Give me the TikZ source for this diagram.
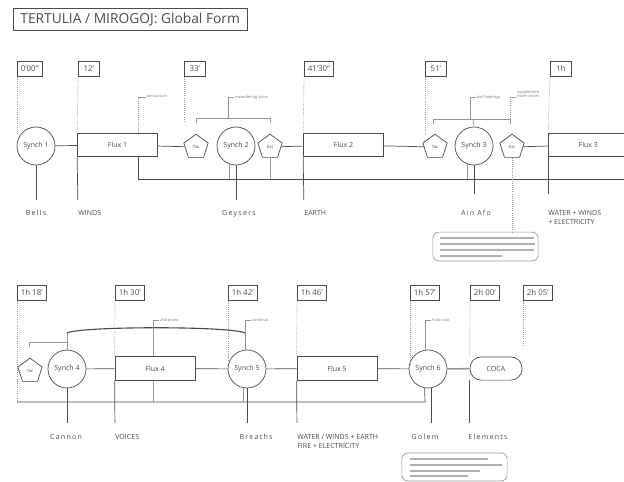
\documentclass[tikz,border=0pt]{standalone}
\usepackage{fontspec}
\setmainfont{Open Sans}
\usepackage{tikz}
\usetikzlibrary{shapes.geometric}
\definecolor{ink}{RGB}{75,75,75}
\definecolor{guide}{RGB}{150,150,150}

\begin{document}
\begin{tikzpicture}[x=0.025cm, y=-0.025cm, line width=0.5pt, color=ink,
  guideline/.style={draw=guide, densely dotted},
  softline/.style={draw=guide},
  timebox/.style={draw, anchor=north west, inner xsep=2.5pt, inner ysep=0pt,
    minimum width=0.52cm, minimum height=0.37cm, font=\fontsize{5.6}{7}\selectfont},
  synch/.style={draw, circle, minimum size=0.95cm, inner sep=0pt,
    font=\fontsize{5}{6}\selectfont},
  flux/.style={draw, rectangle, minimum width=2cm, minimum height=0.59cm,
    inner sep=0pt, font=\fontsize{5}{6}\selectfont},
  pent/.style={draw, regular polygon, regular polygon sides=5,
    minimum size=0.64cm, inner sep=0pt, font=\fontsize{3}{3}\selectfont},
  caps/.style={anchor=north west, inner sep=0pt, align=left,
    font=\fontsize{5}{6.5}\selectfont},
  spaced/.style={anchor=north, inner sep=0pt,
    font=\fontsize{5}{6}\selectfont\addfontfeatures{LetterSpace=18}},
  remark/.style={anchor=west, inner sep=0.5pt, text=guide!80!black,
    font=\fontsize{2.8}{3.2}\selectfont},
  bubble/.style={draw=guide, rounded corners=0.15cm, inner sep=0pt},
  scribble/.style={draw=guide!75, line width=0.9pt}
]

\useasboundingbox (0,0) rectangle (624,481);
\clip (0,0) rectangle (624,481);

%---------------------------------------
% Title
%---------------------------------------
\node[draw, anchor=west, inner xsep=5pt, minimum height=0.48cm,
      font=\fontsize{9.8}{11}\selectfont] (title) at (13,19.5)
      {TERTULIA / MIROGOJ: Global Form};

%====================================================
% ROW 1
%====================================================
\node[timebox] (t1) at (17,61)  {0'00"};
\node[timebox] (t2) at (78,61)  {12'};
\node[timebox] (t3) at (184,61) {33'};
\node[timebox] (t4) at (304,61) {41'30"};
\node[timebox] (t5) at (425,61) {51'};
\node[timebox] (t6) at (550,61) {1h};

% Main chain
\node[synch] (s1) at (36,146)  {Synch 1};
\node[flux]  (f1) at (117.5,145) {Flux 1};
\node[pent]  (p1) at (196,147) {Tac};
\node[synch] (s2) at (236,146) {Synch 2};
\node[pent]  (p2) at (270,147) {Ext};
\node[flux]  (f2) at (343.5,145) {Flux 2};
\node[pent]  (p3) at (435,147) {Tac};
\node[synch] (s3) at (474,146) {Synch 3};
\node[pent]  (p4) at (512,147) {Ext};
\node[flux, anchor=west] (f3) at (548,145) {Flux 3};

\draw (s1) -- (f1);
\draw (f1) -- (p1);
\draw (p2) -- (f2);
\draw (f2) -- (p3);
\draw (p4) -- (f3);

% Guides from the time marks
\draw[guideline] (t1.south west) -- ++(0,58);
\draw[guideline] (t2.south west) -- (f1.north west);
\draw[guideline] (t3.south west) -- ++(0,46);
\draw[guideline] (t4.south west) -- (f2.north west);
\draw[guideline] (t5.south west) -- ++(0,59);
\draw[guideline] (t6.south west) -- (f3.north west);

% Remarks above
\coordinate (kA) at (138,97);
\node[remark] (rA) at (146,97) {percussion};
\draw[guideline] (kA |- f1.north) -- (kA);
\draw[softline] (kA) -- (rA.west);

\coordinate (kB) at (228,97);
\node[remark] (rB) at (234,97) {meandering voice};
\draw[softline] (kB) -- (rB.west);
\draw[softline] (kB) -- (228,118);
\draw[softline] (196,123) -- (196,118) -- (270,118) -- (270,123);

\coordinate (kC) at (470,97);
\node[remark] (rC) at (476,97) {ball bearings};
\draw[softline] (kC) -- (rC.west);
\draw[softline] (kC) -- (470,119);
\draw[softline] (433,124) -- (433,119) -- (510,119) -- (510,124);
\draw[softline] (473,119) -- (s3.north);

\coordinate (kD) at (510,97);
\node[remark, align=left] (rD) at (516,94) {supplement\\more voices};
\draw[softline] (kD) -- (rD.west |- kD);
\draw[guideline] (kD) -- (510,119);

% Bus line below
\coordinate (busA) at (138,179);
\coordinate (busB) at (626,179);
\draw (busA) -- (busB);
\draw (busA |- f1.south) -- (busA);
\draw[softline] (s2.250) -- (s2.250 |- busA);
\draw[softline] (p2.south) -- (p2.south |- busA);
\draw[softline] (s3.250) -- (s3.250 |- busA);

% Labels below
\node[spaced] (bells)   at (36,210)  {Bells};
\node[caps]   (winds)   at (78,210)  {WINDS};
\node[spaced] (geysers) at (239,210) {Geysers};
\node[caps]   (earth)   at (304,210) {EARTH};
\node[spaced] (ainafo)  at (476,210) {Ain Afo};
\node[caps]   (water)   at (548,210) {WATER + WINDS\\+ ELECTRICITY};

\draw[shorten >=0.25cm] (s1.south) -- (bells.north);
\draw[shorten >=0.25cm] (f1.south west) -- (winds.north west);
\draw[shorten >=0.25cm] (s2.south) -- (s2.south |- geysers.north);
\draw[shorten >=0.25cm] (f2.south west) -- (earth.north west);
\draw[shorten >=0.4cm]  (s3.south) -- (s3.south |- ainafo.north);
\draw[shorten >=0.4cm]  (f3.south west) -- (water.north west);

% Note bubble
\node[bubble, minimum width=2.63cm, minimum height=0.72cm] (noteA) at (485.5,246.5) {};
\draw[guideline] (p4.south) -- (noteA.north -| p4.south);
\foreach \yy/\len in {238/94, 244/95, 250/94, 256/62}
  \draw[scribble] (440,\yy) -- ++(\len,0);

%====================================================
% ROW 2
%====================================================
\node[timebox] (t7)  at (17,285)  {1h 18'};
\node[timebox] (t8)  at (115,285) {1h 30'};
\node[timebox] (t9)  at (228,285) {1h 42'};
\node[timebox] (t10) at (297,285) {1h 46'};
\node[timebox] (t11) at (410,285) {1h 57'};
\node[timebox] (t12) at (470,285) {2h 00'};
\node[timebox] (t13) at (523,285) {2h 05'};

% Main chain
\node[pent]  (p5) at (30,371)  {Tac};
\node[synch] (s4) at (67,369)  {Synch 4};
\node[flux]  (f4) at (155,368.5) {Flux 4};
\node[synch] (s5) at (247,369) {Synch 5};
\node[flux]  (f5) at (337,368.5) {Flux 5};
\node[synch] (s6) at (428,369) {Synch 6};
\node[draw, rounded corners=0.28cm, minimum width=1.3cm, minimum height=0.58cm,
      inner sep=0pt, font=\fontsize{5}{6}\selectfont] (coca) at (496,368.5) {COCA};

\draw (s4) -- (f4);
\draw (f4) -- (s5);
\draw (s5) -- (f5);
\draw (f5) -- (s6);
\draw[line width=1.1pt, draw=guide] (s6) -- (coca);

% Guides from the time marks
\draw[guideline] (t7.south west)  -- ++(0,103);
\draw[guideline] (t8.south west)  -- (f4.north west);
\draw[guideline] (t9.south west)  -- ++(0,60);
\draw[guideline] (t10.south west) -- (f5.north west);
\draw[guideline] (t11.south west) -- ++(0,64);
\draw[guideline] (t12.south west) -- (coca.north west);
\draw[guideline] (t13.south west) -- ++(0,45);

% Remarks above
\draw[line width=0.8pt] (67,333) .. controls (80,326) and (232,326) .. (245,333);
\draw[softline] (67,333) -- (s4.north);
\draw[softline] (29,347) -- (29,342) -- (67,342);

\coordinate (kE) at (153,320);
\node[remark] (rE) at (159,320) {2nd piano};
\draw[softline] (kE) -- (rE.west);
\draw[softline] (kE) -- (kE |- f4.north);

\coordinate (kF) at (245,320);
\node[remark] (rF) at (251,320) {continuo};
\draw[softline] (kF) -- (rF.west);
\draw[softline] (kF) -- (s5.north -| kF);

\coordinate (kG) at (425,320);
\node[remark] (rG) at (431,320) {frula solo};
\draw[softline] (kG) -- (rG.west);
\draw[softline] (kG) -- (s6.north -| kG);

% Bus line below
\coordinate (busC) at (17,402);
\coordinate (busD) at (425,402);
\draw (busC) -- (busD) -- (s6.260);
\draw[softline] (f4.south -| 153,0) -- (busC -| 153,0);
\draw[softline] (s5.258) -- (s5.258 |- busC);

% Labels below
\node[spaced] (cannon)   at (66,434)  {Cannon};
\node[caps]   (voices)   at (115,434) {VOICES};
\node[spaced] (breaths)  at (256,434) {Breaths};
\node[caps]   (elements5) at (297,434) {WATER / WINDS + EARTH\\FIRE + ELECTRICITY};
\node[spaced] (golem)    at (425,434) {Golem};
\node[spaced, anchor=north west] (elements) at (468,434) {Elements};

\draw[shorten >=0.28cm] (s4.south) -- (s4.south |- cannon.north);
\draw[shorten >=0.28cm] (f4.south west) -- (voices.north west);
\draw[shorten >=0.28cm] (s5.south) -- (s5.south |- breaths.north);
\draw[shorten >=0.28cm] (f5.south west) -- (elements5.north west);
\draw[shorten >=0.28cm] (s6.280) -- (s6.280 |- golem.north);
\draw[shorten >=0.28cm] (coca.south west) -- (coca.south west |- elements.north);

% Note bubble
\node[bubble, minimum width=2.63cm, minimum height=0.7cm] (noteB) at (454.5,467) {};
\foreach \yy/\len in {459/78, 465/92, 471/70, 476/58}
  \draw[scribble] (410,\yy) -- ++(\len,0);

\end{tikzpicture}
\end{document}
